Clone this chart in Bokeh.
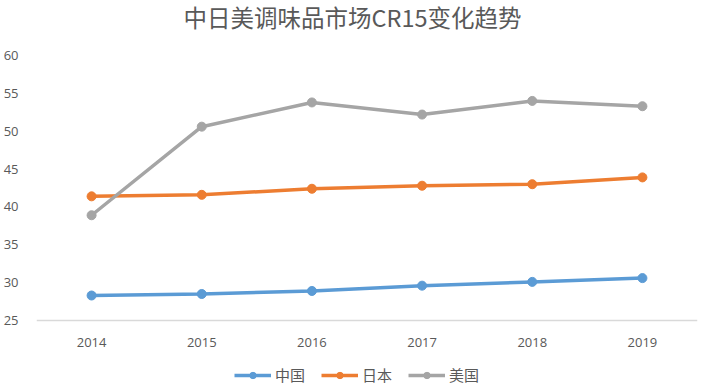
from bokeh.plotting import figure
from bokeh.models import ColumnDataSource, Legend, LegendItem, Range1d, FixedTicker, Label
from bokeh.embed import file_html
from bokeh.resources import INLINE

title_text = "中日美调味品市场CR15变化趋势"
years = ["2014", "2015", "2016", "2017", "2018", "2019"]
china = [28.3, 28.5, 28.9, 29.6, 30.1, 30.6]
japan = [41.4, 41.6, 42.4, 42.8, 43.0, 43.9]
usa = [38.9, 50.6, 53.8, 52.2, 54.0, 53.3]
series_names = ["中国", "日本", "美国"]
colors = ["#5B9BD5", "#ED7D31", "#A5A5A5"]
y_ticks = [25, 30, 35, 40, 45, 50, 55, 60]

src = ColumnDataSource(dict(year=years, china=china, japan=japan, usa=usa))

# frame spans the full height (0..390px); value 60 sits at 55px, value 25 at 320px
px_per_unit = (320 - 55) / (60 - 25)
y_top = 60 + 55 / px_per_unit
y_bottom = 25 - (390 - 320) / px_per_unit

p = figure(x_range=years, y_range=Range1d(y_bottom, y_top), width=705, height=392,
           output_backend="svg", toolbar_location=None,
           min_border_left=36, min_border_right=8, min_border_top=0, min_border_bottom=2)

title = Label(x=316, y=374, x_units="screen", y_units="screen", text=title_text,
              text_align="center", text_baseline="middle",
              text_font="Noto Sans CJK SC", text_font_size="23.5px",
              text_color="#595959")
p.add_layout(title)

items = []
for key, name, c in zip(["china", "japan", "usa"], series_names, colors):
    r1 = p.line("year", key, source=src, line_color=c, line_width=3.5)
    r2 = p.scatter("year", key, source=src, size=9, fill_color=c, line_color=c)
    items.append(LegendItem(label=name, renderers=[r1, r2]))

legend = Legend(items=items, orientation="horizontal", location=(198, 5),
                label_text_font="Noto Sans CJK SC", label_text_font_size="15px",
                label_text_color="#595959", border_line_color=None,
                background_fill_alpha=0,
                glyph_width=37, glyph_height=16, label_height=16,
                spacing=16, padding=2, margin=0, label_standoff=4)
p.add_layout(legend)

p.xgrid.grid_line_color = None
p.ygrid.grid_line_color = None
p.outline_line_color = None

p.yaxis.ticker = FixedTicker(ticks=y_ticks)
p.yaxis.axis_line_color = None
p.yaxis.major_tick_line_color = None
p.yaxis.minor_tick_line_color = None
p.yaxis.major_label_text_color = "#595959"
p.yaxis.major_label_text_font = "Open Sans"
p.yaxis.major_label_text_font_size = "13px"
p.yaxis.major_label_standoff = 12

p.xaxis.fixed_location = 25
p.xaxis.axis_line_color = "#D9D9D9"
p.xaxis.axis_line_width = 1.5
p.xaxis.major_tick_line_color = None
p.xaxis.minor_tick_line_color = None
p.xaxis.major_label_text_color = "#595959"
p.xaxis.major_label_text_font = "Open Sans"
p.xaxis.major_label_text_font_size = "13px"
p.xaxis.major_label_standoff = 11
p.x_range.range_padding = 0

open("out.html", "w").write(file_html(p, INLINE))
